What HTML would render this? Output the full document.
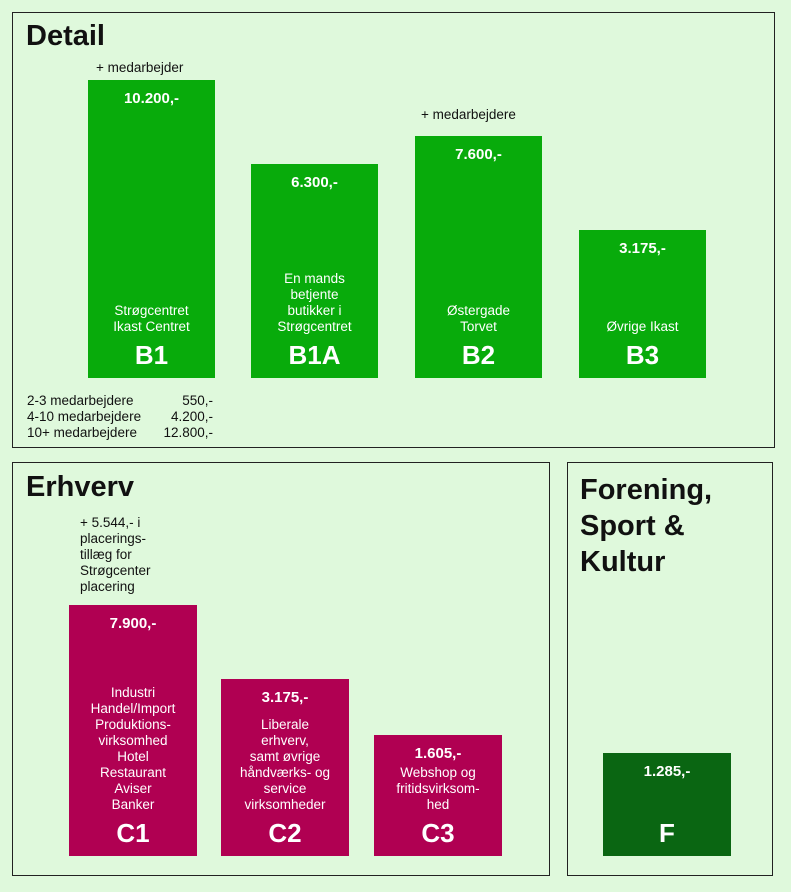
<!DOCTYPE html>
<html><head><meta charset="utf-8"><style>
body{margin:0;width:791px;height:892px;background:#dff9dc;font-family:"Liberation Sans",sans-serif;position:relative;overflow:hidden}
.panel{position:absolute;border:1.5px solid #222;box-sizing:border-box}
.title{position:absolute;font-weight:bold;font-size:29px;color:#111;line-height:36px}
.bar{position:absolute;color:#fff;text-align:center}
.val{position:absolute;left:0;right:0;font-weight:bold;font-size:15px}
.lbl{position:absolute;left:0;right:0;font-size:13.5px;line-height:16px}
.code{position:absolute;left:0;right:0;font-weight:bold;font-size:26px;line-height:28px}
.note{position:absolute;font-size:13.5px;line-height:16px;color:#111}
</style></head><body>
<div class="panel" style="left:12px;top:12px;width:763px;height:436px"></div>
<div class="panel" style="left:12px;top:462px;width:538px;height:414px"></div>
<div class="panel" style="left:567px;top:462px;width:206px;height:414px"></div>
<div class="title" style="left:26px;top:18px">Detail</div>
<div class="title" style="left:26px;top:469px">Erhverv</div>
<div class="title" style="left:580px;top:472px">Forening,<br>Sport &amp;<br>Kultur</div>
<div class="note" style="left:96px;top:60px">+ medarbejder</div>
<div class="note" style="left:421px;top:107px">+ medarbejdere</div>
<div class="note" style="left:80px;top:515px">+ 5.544,- i<br>placerings-<br>tillæg for<br>Strøgcenter<br>placering</div>
<div class="note" style="left:27px;top:393px;width:186px">
<div style="display:flex;justify-content:space-between"><span>2-3 medarbejdere</span><span>550,-</span></div>
<div style="display:flex;justify-content:space-between"><span>4-10 medarbejdere</span><span>4.200,-</span></div>
<div style="display:flex;justify-content:space-between"><span>10+ medarbejdere</span><span>12.800,-</span></div>
</div>
<script>
// Detail panel data
const detailCodes=["B1","B1A","B2","B3"];
const detailValues=[10200,6300,7600,3175];
const detailValueLabels=["10.200,-","6.300,-","7.600,-","3.175,-"];
const detailLabels=["Strøgcentret<br>Ikast Centret","En mands<br>betjente<br>butikker i<br>Strøgcentret","Østergade<br>Torvet","Øvrige Ikast"];
// Erhverv / Forening data
const erhvCodes=["C1","C2","C3","F"];
const erhvValues=[7900,3175,1605,1285];
const erhvValueLabels=["7.900,-","3.175,-","1.605,-","1.285,-"];
const erhvLabels=["Industri<br>Handel/Import<br>Produktions-<br>virksomhed<br>Hotel<br>Restaurant<br>Aviser<br>Banker","Liberale<br>erhverv,<br>samt øvrige<br>håndværks- og<br>service<br>virksomheder","Webshop og<br>fritidsvirksom-<br>hed",""];

function hDetail(v){return 79.6+0.0214*v;}
function hErhv(v){return Math.max(79,121+188*(Math.log10(v)-Math.log10(1605)));}
function drawBar(x,bottom,w,h,color,code,valLbl,lbl){
  const b=document.createElement('div');
  b.className='bar';
  
  
  b.style.left=x+'px';b.style.top=(bottom-h)+'px';b.style.width=w+'px';b.style.height=h+'px';b.style.background=color;
  b.innerHTML='<div class="val" style="top:10px">'+valLbl+'</div>'+
    (lbl?'<div class="lbl" style="bottom:43px">'+lbl+'</div>':'')+
    '<div class="code" style="bottom:9px">'+code+'</div>';
  document.body.appendChild(b);
}
const detailX=[88,251,415,579];
detailCodes.forEach((c,i)=>drawBar(detailX[i],378,127,hDetail(detailValues[i]),'#08ab0b',c,detailValueLabels[i],detailLabels[i]));
const erhvX=[69,221,374,603];
erhvCodes.forEach((c,i)=>drawBar(erhvX[i],856,128,hErhv(erhvValues[i]),c==='F'?'#0a6612':'#b00052',c,erhvValueLabels[i],erhvLabels[i]));
</script>
</body></html>
